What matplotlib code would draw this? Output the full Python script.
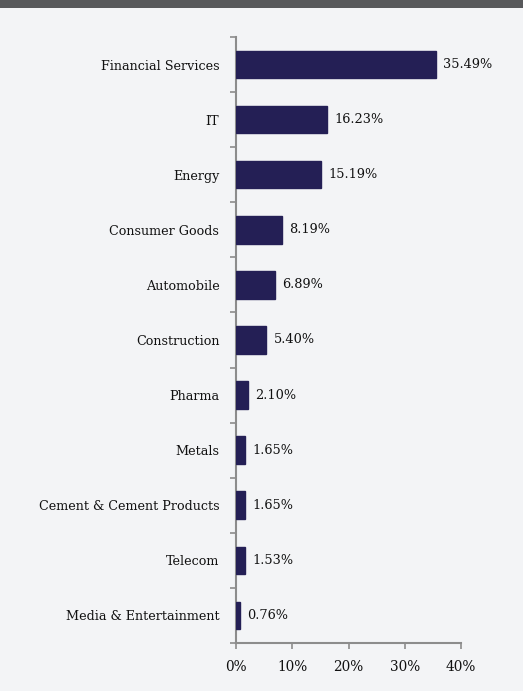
import matplotlib
matplotlib.use("Agg")
import matplotlib.pyplot as plt
from matplotlib.patches import Rectangle
from matplotlib.ticker import FixedLocator

categories = ["Financial Services", "IT", "Energy", "Consumer Goods", "Automobile",
              "Construction", "Pharma", "Metals", "Cement & Cement Products",
              "Telecom", "Media & Entertainment"]
values = [35.49, 16.23, 15.19, 8.19, 6.89, 5.40, 2.10, 1.65, 1.65, 1.53, 0.76]
xticks = [0, 10, 20, 30, 40]
xtick_labels = ["0%", "10%", "20%", "30%", "40%"]

plt.rcParams['font.family'] = ['DejaVu Serif']
bg = "#f3f4f6"
fig = plt.figure(figsize=(5.23, 6.91), dpi=100, facecolor=bg)
fig.patches.append(Rectangle((0, 1 - 8/691), 1, 8/691, transform=fig.transFigure,
                             facecolor="#58595b", edgecolor="none", zorder=5))
ax = fig.add_axes([236/523, 48/691, 225/523, 606/691])
ax.set_facecolor(bg)

n = len(categories)
ypos = list(range(n))[::-1]
ax.barh(ypos, values, height=0.5, color="#241f55", edgecolor="#241f55", zorder=3)
for y, v in zip(ypos, values):
    ax.text(v + 1.3, y, f"{v:.2f}%", va="center", ha="left", fontsize=9.3, color="#111111")

ax.set_xlim(0, 40)
ax.set_ylim(-0.5, n - 0.5)
ax.set_xticks(xticks)
ax.set_xticklabels(xtick_labels, fontsize=9.8, color="#111111")
ax.set_yticks(ypos)
ax.set_yticklabels(categories, fontsize=9.2, color="#111111")
ax.yaxis.set_minor_locator(FixedLocator([i - 0.5 for i in range(n + 1)]))
ax.tick_params(axis='y', which='major', length=0, pad=12)
ax.tick_params(axis='y', which='minor', length=4, color="#8c8c8c", width=1.2)
ax.tick_params(axis='x', length=4, color="#8c8c8c", width=1.2, pad=8)
for s in ["top", "right"]:
    ax.spines[s].set_visible(False)
for s in ["left", "bottom"]:
    ax.spines[s].set_color("#8c8c8c")
    ax.spines[s].set_linewidth(1.5)

fig.savefig("out.png", dpi=100, facecolor=bg)
